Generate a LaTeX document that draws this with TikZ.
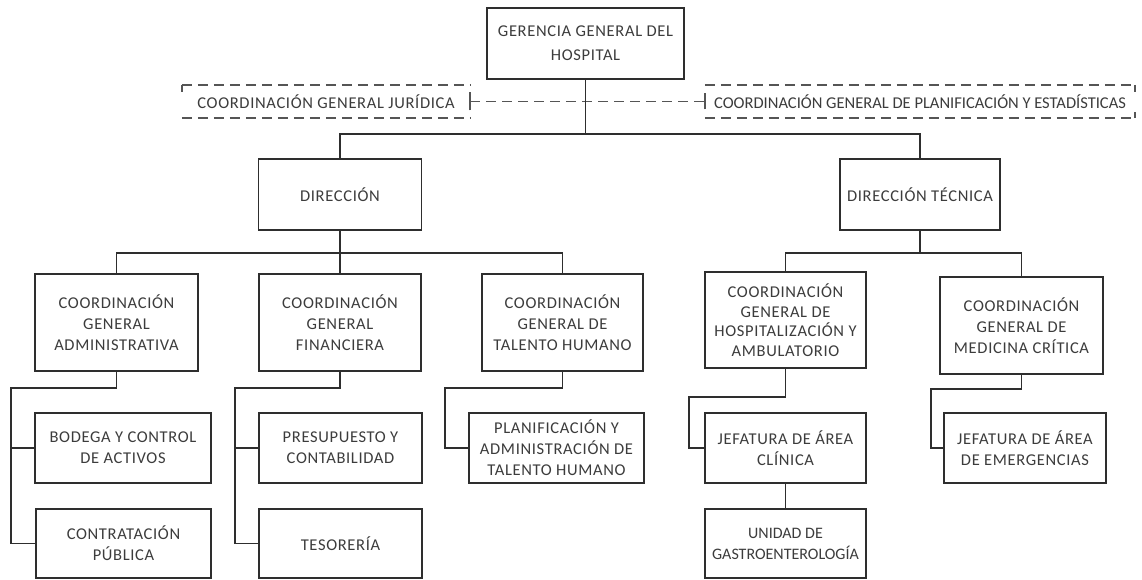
\documentclass[tikz,border=0pt]{standalone}
\usepackage{fontspec}
\newfontfamily\boxfamily{Carlito}[LetterSpace=4]
\newfontfamily\plainfamily{Carlito}
\newcommand\boxfont{\boxfamily\fontsize{16.5}{21}\selectfont}
\definecolor{linec}{HTML}{2E2E2E}
\definecolor{dashc}{HTML}{555555}
\definecolor{textc}{HTML}{3C3C3C}
\tikzset{
  box/.style={draw=linec, line width=1.8pt, fill=white, text=textc, align=center,
    inner sep=0pt, font=\boxfont},
  dbox/.style={text=textc, align=center, inner sep=0pt, font=\boxfont},
  sz/.style 2 args={minimum width=#1pt, minimum height=#2pt},
  conn/.style={draw=linec, line width=1.8pt},
  dconn/.style={draw=dashc, line width=1.5pt, dash pattern=on 10pt off 6pt},
  tick/.style={draw=dashc, line width=1.5pt}
}
\begin{document}
\begin{tikzpicture}[x=1pt,y=-1pt]
\fill[white] (0,0) rectangle (1142,580);
\useasboundingbox (0,0) rectangle (1142,580);

% top
\node[box, sz={197}{71}] (ger) at (585.5,43.5) {GERENCIA GENERAL DEL\\[3pt]HOSPITAL};
\node[dbox, sz={288}{33}] (jur) at (326,101.5) {COORDINACIÓN GENERAL JURÍDICA};
\node[dbox, sz={430}{33}, font=\plainfamily\fontsize{16.5}{21}\selectfont] (pln) at (920,101.5) {COORDINACIÓN GENERAL DE PLANIFICACIÓN Y ESTADÍSTICAS};

% dashed frames of the advisory units
\draw[dconn] (jur.north west) -- (jur.north east);
\draw[dconn] (jur.south west) -- (jur.south east);
\draw[tick] (jur.north west) -- ++(0,7);
\draw[dconn] (pln.north west) -- (pln.north east);
\draw[dconn] (pln.south west) -- (pln.south east);
\draw[tick] (pln.north east) -- ++(0,7);
\draw[tick] (pln.south east) -- ++(0,-6);

% level 2
\node[box, sz={163}{71}] (dir) at (340,194.5) {DIRECCIÓN};
\node[box, sz={160}{71}] (dirt) at (920,194.5) {DIRECCIÓN TÉCNICA};

% level 3
\node[box, sz={163}{97}] (cga) at (116.5,322.5) {COORDINACIÓN\\GENERAL\\ADMINISTRATIVA};
\node[box, sz={162}{97}] (cgf) at (340,322.5) {COORDINACIÓN\\GENERAL\\FINANCIERA};
\node[box, sz={161}{97}] (cgt) at (562.5,322.5) {COORDINACIÓN\\GENERAL DE\\TALENTO HUMANO};
\node[box, sz={161}{96}, font=\boxfamily\fontsize{16.5}{19.5}\selectfont] (hosp) at (785.5,320) {COORDINACIÓN\\GENERAL DE\\HOSPITALIZACIÓN Y\\AMBULATORIO};
\node[box, sz={163}{97}] (med) at (1021.5,325.5) {COORDINACIÓN\\GENERAL DE\\MEDICINA CRÍTICA};

% level 4
\node[box, sz={176}{70}] (bod) at (123,448) {BODEGA Y CONTROL\\DE ACTIVOS};
\node[box, sz={163}{70}] (pres) at (340.5,448) {PRESUPUESTO Y\\CONTABILIDAD};
\node[box, sz={175}{70}] (plth) at (556.5,448) {PLANIFICACIÓN Y\\ADMINISTRACIÓN DE\\TALENTO HUMANO};
\node[box, sz={161}{70}] (jefc) at (785.5,448) {JEFATURA DE ÁREA\\CLÍNICA};
\node[box, sz={162}{70}] (jefe) at (1025,448) {JEFATURA DE ÁREA\\DE EMERGENCIAS};

% level 5
\node[box, sz={175}{69}] (cont) at (123.5,543.5) {CONTRATACIÓN\\PÚBLICA};
\node[box, sz={163}{69}] (tes) at (340.5,543.5) {TESORERÍA};
\node[box, sz={161}{69}, font=\plainfamily\fontsize{16}{21}\selectfont] (uni) at (785.5,543.5) {UNIDAD DE\\GASTROENTEROLOGÍA};

% hubs
\coordinate (h1) at (585.5,134);
\coordinate (h2) at (340,253);
\coordinate (h3) at (920,253);
\coordinate (c1) at (11,388);
\coordinate (c2) at (235,388);
\coordinate (c3) at (445,388);
\coordinate (c4) at (689,397);
\coordinate (c5) at (931,389);

% connectors
\draw[dconn] (jur.east) -- (pln.west);
\draw[tick] ([yshift=-9pt]jur.east) -- ([yshift=9pt]jur.east);
\draw[tick] ([yshift=-8pt]pln.west) -- ([yshift=8pt]pln.west);
\draw[conn] (ger.south) -- (h1);
\draw[conn] (dir.north) |- (h1) -| (dirt.north);
\draw[conn] (dir.south) -- (h2);
\draw[conn] (cga.north) |- (h2) -| (cgt.north);
\draw[conn] (h2) -- (cgf.north);
\draw[conn] (dirt.south) -- (h3);
\draw[conn] (hosp.north) |- (h3) -| (med.north);
\draw[conn] (cga.south) |- (c1) |- (bod.west);
\draw[conn] (c1) |- (cont.west);
\draw[conn] (cgf.south) |- (c2) |- (pres.west);
\draw[conn] (c2) |- (tes.west);
\draw[conn] (cgt.south) |- (c3) |- (plth.west);
\draw[conn] (hosp.south) |- (c4) |- (jefc.west);
\draw[conn] (jefc.south) -- (uni.north);
\draw[conn] (med.south) |- (c5) |- (jefe.west);
\end{tikzpicture}
\end{document}
